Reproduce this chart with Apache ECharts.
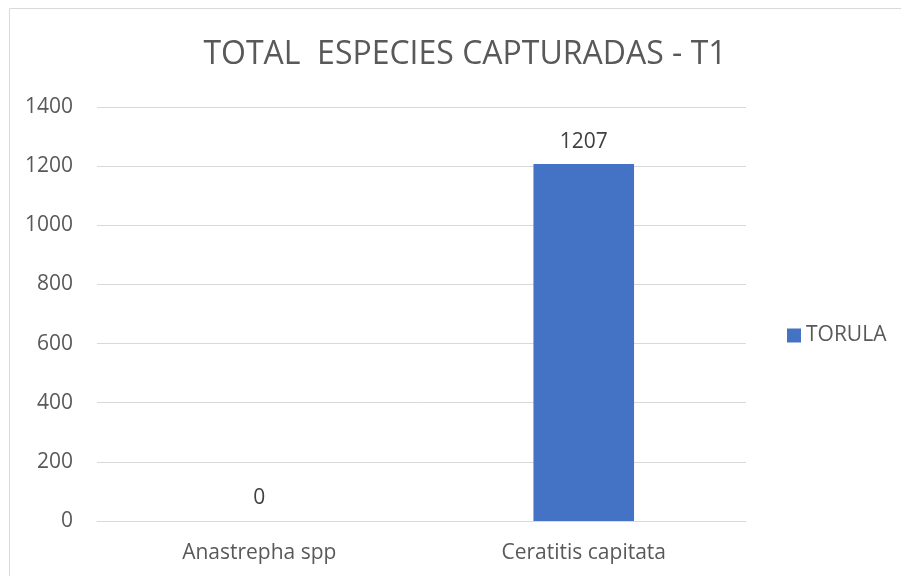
<!DOCTYPE html>
<html>
<head>
<meta charset="utf-8">
<script src="https://cdn.jsdelivr.net/npm/echarts@6/dist/echarts.min.js"></script>
<style>
html,body{margin:0;padding:0;background:#fff;}
#main{width:901px;height:576px;}
</style>
</head>
<body>
<div id="main"></div>
<script>
const categories = ['Anastrepha spp', 'Ceratitis capitata'];
const seriesName = 'TORULA';
const values = [0, 1207];
const yTicks = [0, 200, 400, 600, 800, 1000, 1200, 1400];

const chart = echarts.init(document.getElementById('main'));
const font = '"Open Sans", "Noto Sans", sans-serif';
chart.setOption({
  animation: false,
  graphic: [{
    type: 'rect', silent: true,
    shape: { x: 9.5, y: 8.5, width: 1000, height: 1000 },
    style: { fill: 'none', stroke: '#d9d9d9', lineWidth: 1 }
  }],
  title: {
    text: 'TOTAL  ESPECIES CAPTURADAS - T1',
    left: 460, top: 34, textAlign: 'center',
    textStyle: { fontFamily: font, fontSize: 32, fontWeight: 'normal', color: '#595959' }
  },
  legend: {
    data: [seriesName],
    left: 787, top: 325, orient: 'vertical', padding: 0,
    icon: 'rect', itemWidth: 14, itemHeight: 14, itemGap: 6,
    textStyle: { fontFamily: font, fontSize: 21, color: '#595959' }
  },
  grid: { left: 97, right: 155, top: 107, bottom: 55 },
  xAxis: {
    type: 'category', data: categories,
    axisLine: { lineStyle: { color: '#d9d9d9', width: 1 } },
    axisTick: { show: false },
    axisLabel: { fontFamily: font, fontSize: 21, color: '#595959', margin: 22 }
  },
  yAxis: {
    type: 'value', min: yTicks[0], max: yTicks[yTicks.length - 1], interval: 200,
    axisLine: { show: false }, axisTick: { show: false },
    splitLine: { lineStyle: { color: '#d9d9d9', width: 1 } },
    axisLabel: { fontFamily: font, fontSize: 21, color: '#595959', margin: 24, formatter: v => String(v) }
  },
  series: [{
    name: seriesName, type: 'bar', data: values, barWidth: '31%',
    itemStyle: { color: '#4472c4' },
    label: { show: true, position: 'top', distance: 12, fontFamily: font, fontSize: 21, color: '#404040' }
  }]
});
</script>
</body>
</html>
